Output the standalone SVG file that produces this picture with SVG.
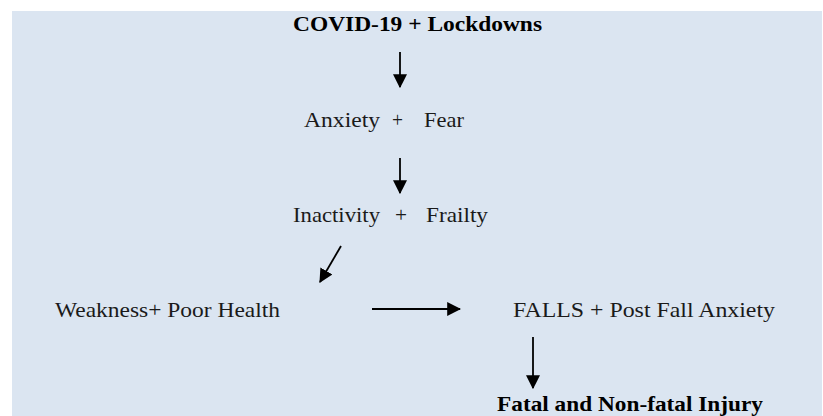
<svg xmlns="http://www.w3.org/2000/svg" width="823" height="416" viewBox="0 0 823 416">
<style>
.t{font-family:"Liberation Serif","DejaVu Serif",serif;font-size:21px;font-weight:normal;fill:#1a1a1a}
.b{font-family:"Liberation Serif","DejaVu Serif",serif;font-size:22px;font-weight:bold;fill:#000}
.c{stroke:#000;stroke-width:1.8;fill:none}
</style>
<defs>
<marker id="ah" markerUnits="userSpaceOnUse" markerWidth="14" markerHeight="14" viewBox="0 0 12 12" refX="11" refY="6" orient="auto">
<path d="M0,0 L12,6 L0,12 Z" fill="#000"/>
</marker>
</defs>
<rect x="0" y="0" width="823" height="416" fill="#fff"/>
<rect x="12" y="11" width="810" height="405" fill="#dbe5f1"/>
<g id="n1"><text class="b" x="293" y="31" textLength="249" lengthAdjust="spacingAndGlyphs">COVID-19 + Lockdowns</text></g>
<g id="n2"><text class="t" y="127"><tspan x="304" textLength="76" lengthAdjust="spacingAndGlyphs">Anxiety</tspan><tspan x="392" textLength="11" lengthAdjust="spacingAndGlyphs">+</tspan><tspan x="424" textLength="40" lengthAdjust="spacingAndGlyphs">Fear</tspan></text></g>
<g id="n3"><text class="t" y="222"><tspan x="293" textLength="87" lengthAdjust="spacingAndGlyphs">Inactivity</tspan><tspan x="395" textLength="12" lengthAdjust="spacingAndGlyphs">+</tspan><tspan x="426" textLength="62" lengthAdjust="spacingAndGlyphs">Frailty</tspan></text></g>
<g id="n4"><text class="t" x="55" y="317" textLength="225" lengthAdjust="spacingAndGlyphs">Weakness+ Poor Health</text></g>
<g id="n5"><text class="t" x="513" y="317" textLength="262" lengthAdjust="spacingAndGlyphs">FALLS + Post Fall Anxiety</text></g>
<g id="n6"><text class="b" x="497" y="411" textLength="266" lengthAdjust="spacingAndGlyphs">Fatal and Non-fatal Injury</text></g>
<g id="connectors">
<line class="c" x1="400" y1="52" x2="400" y2="87" marker-end="url(#ah)"/>
<line class="c" x1="400" y1="158" x2="400" y2="193" marker-end="url(#ah)"/>
<line class="c" x1="341" y1="246" x2="320" y2="282" marker-end="url(#ah)"/>
<line class="c" x1="372" y1="309" x2="460" y2="309" marker-end="url(#ah)"/>
<line class="c" x1="533" y1="337" x2="533" y2="388" marker-end="url(#ah)"/>
</g>
</svg>
